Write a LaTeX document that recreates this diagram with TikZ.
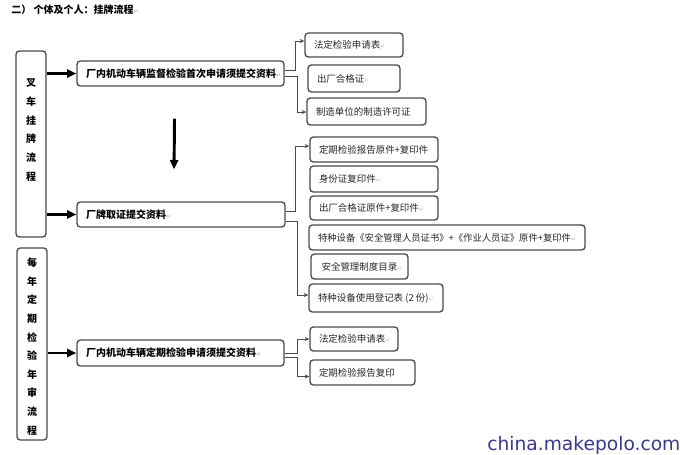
\documentclass[tikz,border=0pt]{standalone}
\usepackage{fontspec}
\setmainfont{Noto Sans CJK SC}
\newfontfamily\markfont{DejaVu Sans}
\newfontfamily\wmfont{DejaVu Sans}
\usetikzlibrary{arrows.meta}
\definecolor{boxline}{RGB}{75,75,75}
\definecolor{txtgray}{RGB}{40,40,40}
\definecolor{wmblue}{RGB}{58,58,140}
\newcommand{\retmark}{{\markfont\fontsize{4.5}{5}\selectfont\color{gray!55}↵}}
\newcommand{\lbx}[2]{\makebox[#1pt][l]{#2}}
\begin{document}
\begin{tikzpicture}[x=0.75pt,y=-0.75pt,
  box/.style={draw=boxline,line width=1pt,rounded corners=2.5pt,inner xsep=6.75pt,inner ysep=0pt,minimum height=#1*0.75pt,anchor=center},
  mainbox/.style={box=#1,font=\fontsize{7.5}{9}\selectfont\bfseries,text=black},
  subbox/.style={box=#1,font=\fontsize{7.1}{8.5}\selectfont,text=txtgray},
  sidebox/.style={draw=boxline,line width=1pt,rounded corners=2.5pt,minimum width=22.5pt,minimum height=#1*0.75pt,inner sep=0pt},
  sidetext/.style={align=center,font=\fontsize{7.5}{14.1}\selectfont\bfseries,inner sep=0pt},
  bigarrow/.style={line width=2.2pt,-{Triangle[length=7pt,width=6pt]}},
  conn/.style={draw=boxline,line width=0.6pt,-{Stealth[length=3.5pt,width=3pt]}}]
\useasboundingbox (0,0) rectangle (680,454);
\fill[white] (0,0) rectangle (680,454);

% title
\node[anchor=west,inner sep=0pt,font=\fontsize{7.5}{9}\selectfont\bfseries] (title) at (11,10) {二）\ 个体及个人：挂牌流程\retmark};

% left side boxes
\node[sidebox=186] (L1) at (31,144) {};
\node[sidetext] (L1t) at (31,130) {叉\\车\\挂\\牌\\流\\程};
\node[sidebox=192] (L2) at (32,344) {};
\node[sidetext,font=\fontsize{7.5}{13.95}\selectfont\bfseries] (L2t) at (32,346.5) {每\\年\\定\\期\\检\\验\\年\\审\\流\\程};

% main boxes
\node[mainbox=25] (A) at (180.5,73.5) {\lbx{141.75}{厂内机动车辆监督检验首次申请须提交资料\retmark}};
\node[mainbox=25] (B) at (181,214.5) {\lbx{142.5}{厂牌取证提交资料\retmark}};
\node[mainbox=26] (C) at (180.5,353) {\lbx{141.75}{厂内机动车辆定期检验申请须提交资料\retmark}};

% group 1
\node[subbox=24] (R1) at (354,45) {\lbx{60}{法定检验申请表\retmark}};
\node[subbox=27] (R2) at (354,78.5) {\lbx{55.5}{出厂合格证\retmark}};
\node[subbox=27] (R3) at (366.5,111.5) {\lbx{75.75}{制造单位的制造许可证}};

% group 2
\node[subbox=25] (S1) at (374,149.5) {\lbx{82.5}{定期检验报告原件+复印件}};
\node[subbox=26] (S2) at (374,179) {\lbx{82.5}{身份证复印件\retmark}};
\node[subbox=24] (S3) at (374,208) {\lbx{82.5}{出厂合格证原件+复印件\retmark}};
\node[subbox=25,font=\fontsize{7}{8.5}\selectfont] (S4) at (447,237.5) {\lbx{193.5}{特种设备《安全管理人员证书》+《作业人员证》原件+复印件\retmark}};
\node[subbox=25] (S5) at (359.5,266.5) {\lbx{59.25}{\,安全管理制度目录\retmark}};
\node[subbox=28] (S6) at (376,298) {\lbx{87}{特种设备使用登记表 (2 份)\retmark}};

% group 3
\node[subbox=24] (T1) at (354,339) {\lbx{52.5}{法定检验申请表\retmark}};
\node[subbox=25] (T2) at (362.5,372.5) {\lbx{65.25}{定期检验报告复印}};

% thick arrows
\draw[bigarrow] (L1.east |- A.west) -- (A.west);
\draw[bigarrow] (L1.east |- B.west) -- (B.west);
\draw[bigarrow] (L2.east |- C.west) -- (C.west);
\draw[bigarrow] ([xshift=-4.5pt,yshift=-24pt]A.south) -- ([xshift=-5.2pt,yshift=24pt]B.north);

% connectors group 1
\draw[conn] ([yshift=2pt]A.east) -- ++(11,0) |- ([yshift=3pt]R1.west);
\draw[conn] ([yshift=-2.5pt]A.east) -- ++(13,0) |- ([yshift=-0.4pt]R3.west);

% connectors group 2
\draw[conn] ([yshift=2pt]B.east) -- ++(10,0) |- ([yshift=2.6pt]S1.west);
\draw[conn] ([yshift=-5.5pt]B.east) -- ++(12,0) |- ([yshift=2.25pt]S6.west);

% connectors group 3
\draw[conn] (C.east) -- ++(13,0) |- (T1.west);
\draw[conn] ([yshift=-3pt]C.east) -- ++(13,0) |- ([yshift=-3pt]T2.west);

% watermark
\node[anchor=base west,inner sep=0pt,text=wmblue,font=\wmfont\fontsize{14}{16}\selectfont] (wm) at (487,450) {china.makepolo.com};
\end{tikzpicture}
\end{document}
